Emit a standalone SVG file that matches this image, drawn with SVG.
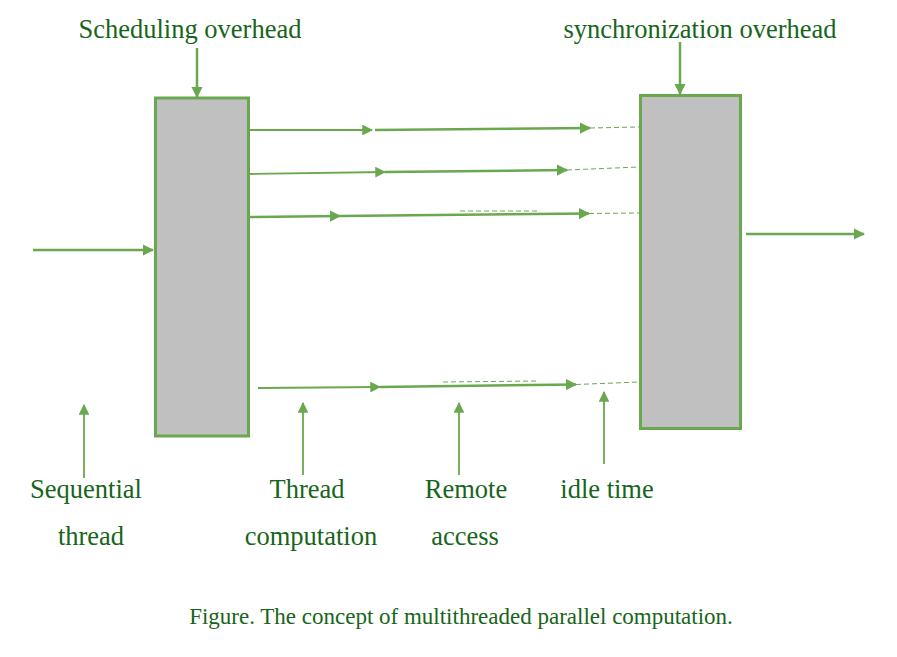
<svg xmlns="http://www.w3.org/2000/svg" width="897" height="657" viewBox="0 0 897 657">
<style>
.box{fill:#c0c0c0;stroke:#6aa84f;stroke-width:3}
.ln{stroke:#6aa84f;stroke-width:2.5;fill:none}
.thin{stroke:#6aa84f;stroke-width:1.8;fill:none}
.dash{stroke:#6aa84f;stroke-width:1;stroke-dasharray:5,3;fill:none}
.t{font-family:"Liberation Serif",serif;font-size:26.5px;fill:#17651a;text-anchor:middle}
.cap{font-family:"Liberation Serif",serif;font-size:23px;fill:#17651a;text-anchor:middle}
</style>
<defs>
<marker id="ah" viewBox="0 0 10 10" refX="9" refY="5" markerWidth="4.5" markerHeight="4.5" orient="auto" markerUnits="strokeWidth">
<path d="M0,0 L10,5 L0,10 z" fill="#6aa84f"/>
</marker>
<marker id="ah2" viewBox="0 0 10 10" refX="9" refY="5" markerWidth="6" markerHeight="6" orient="auto" markerUnits="strokeWidth">
<path d="M0,0 L10,5 L0,10 z" fill="#6aa84f"/>
</marker>
</defs>
<rect width="897" height="657" fill="#fff"/>
<g id="sched-box"><rect class="box" x="155.500" y="98" width="93" height="338"/></g>
<g id="sync-box"><rect class="box" x="640.500" y="95.500" width="100" height="333"/></g>
<g id="connectors">
<line class="ln" x1="197" y1="48" x2="197" y2="97" marker-end="url(#ah)"/>
<line class="ln" x1="680" y1="42" x2="680" y2="94" marker-end="url(#ah)"/>
<line class="ln" x1="33" y1="250" x2="153" y2="250" marker-end="url(#ah)"/>
<line class="ln" x1="746" y1="234" x2="864" y2="234" marker-end="url(#ah)"/>
<line class="thin" x1="250" y1="130" x2="372" y2="130" marker-end="url(#ah2)"/>
<line class="ln" x1="375" y1="130" x2="590" y2="128" marker-end="url(#ah)"/>
<line class="dash" x1="590" y1="128" x2="639" y2="127"/>
<line class="thin" x1="250" y1="174" x2="385" y2="172" marker-end="url(#ah2)"/>
<line class="ln" x1="385" y1="172" x2="567" y2="170" marker-end="url(#ah)"/>
<line class="dash" x1="567" y1="170" x2="639" y2="167"/>
<line class="ln" x1="250" y1="217" x2="340" y2="216" marker-end="url(#ah)"/>
<line class="ln" x1="340" y1="216" x2="589" y2="213.500" marker-end="url(#ah)"/>
<line class="dash" x1="589" y1="213.500" x2="639" y2="213"/>
<line class="dash" x1="460" y1="211" x2="537" y2="211"/>
<line class="thin" x1="258" y1="388" x2="380" y2="387" marker-end="url(#ah2)"/>
<line class="ln" x1="380" y1="387" x2="576" y2="384.500" marker-end="url(#ah)"/>
<line class="dash" x1="576" y1="384.500" x2="639" y2="382"/>
<line class="dash" x1="443" y1="382" x2="537" y2="381"/>
<line class="thin" x1="84" y1="478" x2="84" y2="405" marker-end="url(#ah2)"/>
<line class="thin" x1="303" y1="475" x2="303" y2="403" marker-end="url(#ah2)"/>
<line class="thin" x1="459" y1="475" x2="459" y2="403" marker-end="url(#ah2)"/>
<line class="thin" x1="604" y1="464" x2="604" y2="392" marker-end="url(#ah2)"/>
</g>
<g id="labels">
<text class="t" x="190" y="38">Scheduling overhead</text>
<text class="t" x="700" y="38">synchronization overhead</text>
<text class="t" x="86" y="498">Sequential</text>
<text class="t" x="91" y="545">thread</text>
<text class="t" x="307" y="498">Thread</text>
<text class="t" x="311" y="545">computation</text>
<text class="t" x="466" y="498">Remote</text>
<text class="t" x="465" y="545">access</text>
<text class="t" x="607" y="498">idle time</text>
<text class="cap" x="461" y="624">Figure. The concept of multithreaded parallel computation.</text>
</g>
</svg>
